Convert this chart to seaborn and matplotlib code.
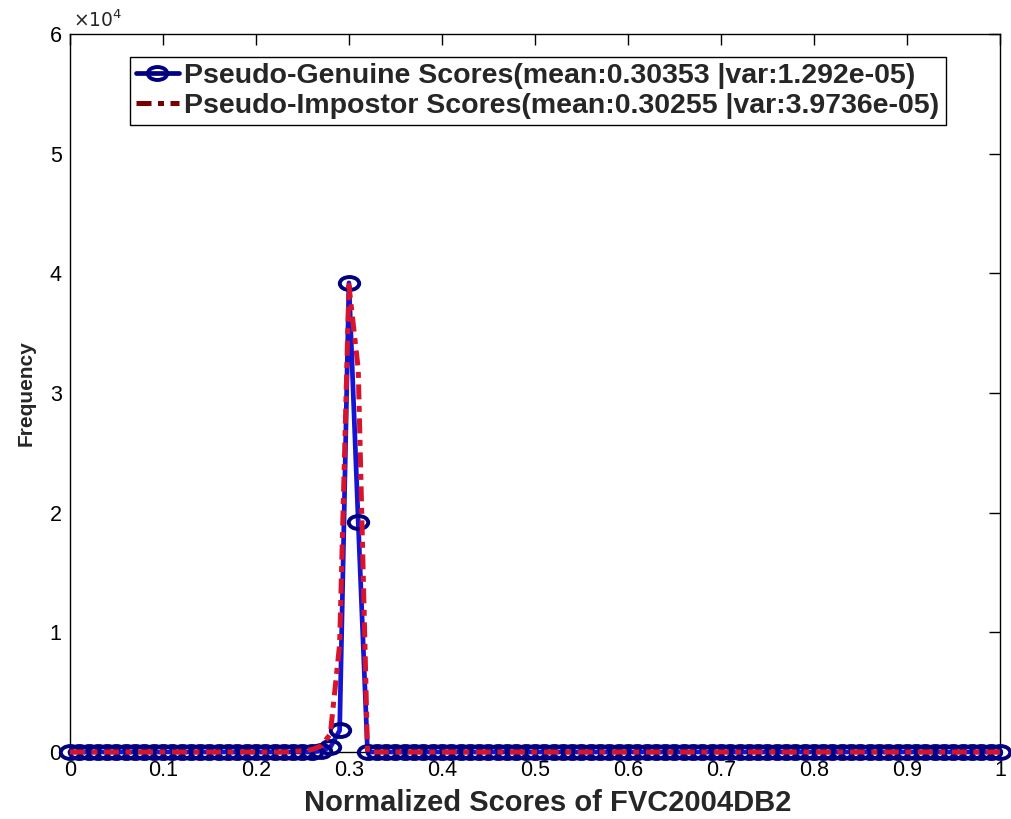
import numpy as np
import pandas as pd
import seaborn as sns
import matplotlib.pyplot as plt
from matplotlib.path import Path
from matplotlib.transforms import Affine2D

# bin centres of the normalized score histogram (0.00 .. 1.00, step 0.01)
score_bins = np.round(np.arange(0, 101) / 100, 2)

# frequencies (zeros away from the peak)
genuine_counts = [0] * 27 + [100, 400, 1800, 39200, 19200] + [0] * 69
impostor_counts = [0] * 24 + [50, 100, 200, 500, 1500, 9000, 39000, 32000] + [0] * 69

genuine_label = "Pseudo-Genuine Scores(mean:0.30353 |var:1.292e-05)"
impostor_label = "Pseudo-Impostor Scores(mean:0.30255 |var:3.9736e-05)"

x_ticks = [0, 0.1, 0.2, 0.3, 0.4, 0.5, 0.6, 0.7, 0.8, 0.9, 1]
y_ticks = [0, 10000, 20000, 30000, 40000, 50000, 60000]
y_tick_labels = ["0", "1", "2", "3", "4", "5", "6"]


def make_chart():
    df_gen = pd.DataFrame({"score": score_bins, "freq": genuine_counts})
    df_imp = pd.DataFrame({"score": score_bins, "freq": impostor_counts})

    sns.set_theme(style="white")
    plt.rcParams["font.family"] = ["Liberation Sans", "DejaVu Sans"]

    # the original picture is a bit stretched sideways, so use a wide circle
    wide_circle = Path.unit_circle().transformed(Affine2D().scale(1.5, 1.0))

    fig = plt.figure(figsize=(10.11, 8.19), dpi=100)
    ax = fig.add_axes([0.0692, 0.0818, 0.9198, 0.8767])

    sns.lineplot(data=df_gen, x="score", y="freq", ax=ax,
                 color="#1414D2", linewidth=3.4, marker=wide_circle,
                 markersize=14, markerfacecolor="none",
                 markeredgecolor="#000080", markeredgewidth=2.8,
                 label=genuine_label, clip_on=False, zorder=3)
    sns.lineplot(data=df_imp, x="score", y="freq", ax=ax,
                 color="#D8142C", linewidth=3.6,
                 linestyle=(0, (3, 1.3, 1.2, 1.3)), label=impostor_label,
                 clip_on=False, zorder=4)

    ax.set_xlim(0, 1)
    ax.set_ylim(0, 60000)
    ax.set_xticks(x_ticks)
    ax.set_xticklabels([f"{t:g}" for t in x_ticks])
    ax.set_yticks(y_ticks)
    ax.set_yticklabels(y_tick_labels)
    ax.tick_params(direction="in", length=8, width=1, labelsize=15.5,
                   top=True, right=True, colors="black", pad=6)

    for side in ax.spines.values():
        side.set_color("black")
        side.set_linewidth(1)

    ax.text(0.003, 1.004, r"$\times10^{4}$", transform=ax.transAxes,
            fontsize=13.5, ha="left", va="bottom")

    ax.set_xlabel("Normalized Scores of FVC2004DB2", fontsize=21,
                  fontweight="bold")
    ax.xaxis.set_label_coords(0.514, -0.052)
    ax.set_ylabel("Frequency", fontsize=15, fontweight="bold", labelpad=10)

    leg = ax.legend(loc="upper center", bbox_to_anchor=(0.503, 0.968),
                    prop={"weight": "bold", "size": 20.5},
                    frameon=True, fancybox=False, framealpha=1,
                    edgecolor="black", handlelength=1.5, handletextpad=0.2,
                    borderpad=0.22, labelspacing=0.12, borderaxespad=0)
    leg.get_frame().set_linewidth(1)
    leg_lines = leg.get_lines()
    leg_lines[0].set_color("#000080")
    leg_lines[1].set_color("#7A0000")

    plt.savefig("out.png", dpi=100)


if __name__ == "__main__":
    make_chart()
